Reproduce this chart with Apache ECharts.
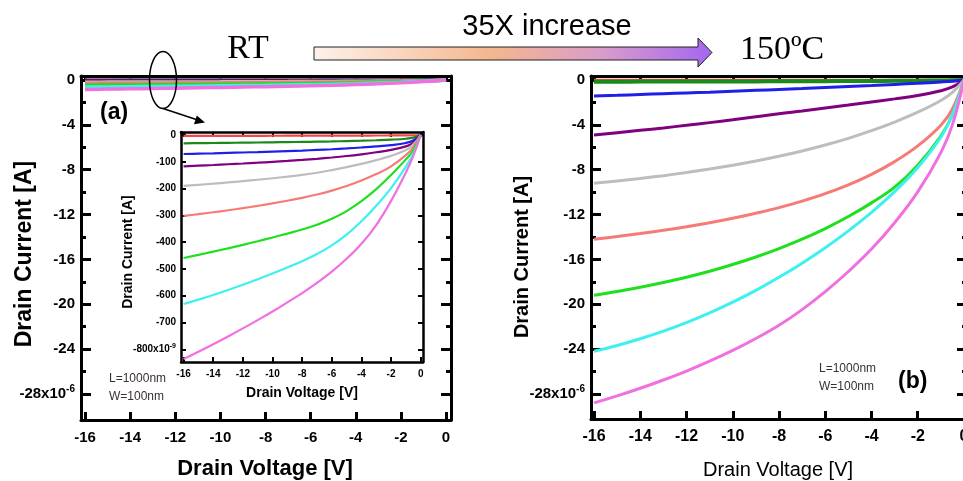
<!DOCTYPE html>
<html><head><meta charset="utf-8">
<script src="https://cdn.jsdelivr.net/npm/echarts@6/dist/echarts.min.js"></script>
<style>html,body{margin:0;padding:0;background:#fff}#c{width:963px;height:481px}</style>
</head><body><div id="c"></div>
<script>
// ---------- data ----------
const voltage = [-16,-15,-14,-13,-12,-11,-10,-9,-8,-7,-6,-5,-4,-3,-2,-1,-0.5,0];
// Room temperature curves, in nA (inset); main panel (a) shows the same in μA
const rtRed       = [-3,-3,-3,-3,-3,-3,-2.8,-2.7,-2.6,-2.5,-2.4,-2.3,-2.1,-1.9,-1.7,-1.4,-1,0];
const rtDarkGreen = [-31,-30.4,-29.8,-29.2,-28.6,-28,-27.3,-26.6,-25.8,-24.9,-23.9,-22.7,-21.3,-19.6,-17.4,-14,-10,0];
const rtBlue      = [-71,-69.7,-68.3,-66.8,-65.25,-63.6,-61.85,-60,-58,-55.7,-53.1,-50.1,-46.7,-42.7,-37.7,-29.7,-20.7,0];
const rtPurple    = [-117,-114.5,-111.9,-109.2,-106.4,-103.4,-100.2,-96.8,-93,-88.8,-84,-78.5,-72,-64.5,-55.5,-42.5,-29.5,0];
const rtGray      = [-190,-186,-181.7,-177.1,-172.2,-167,-161.5,-155.6,-149,-141,-131,-120,-108,-94,-78,-56,-36,0];
const rtSalmon    = [-302,-295.5,-288.5,-281,-273,-264.5,-255.5,-245.5,-234.5,-222,-207.5,-190.5,-170,-146,-117,-75,-46,0];
const rtGreen     = [-459,-447.5,-435.5,-423,-410,-396.5,-382.5,-368,-353,-335,-313,-284,-247,-202,-149,-91,-57,0];
const rtCyan      = [-631,-614.5,-597,-578.5,-559,-538.5,-517,-494.5,-471,-444,-412,-372,-322,-264,-198,-118,-70,0];
const rtPink      = [-836,-809,-781,-752,-722,-691,-659,-625,-590,-552,-510,-462,-406,-336,-246,-140,-78,0];
// 150 °C curves, in μA
const hotRed       = [-0.03,-0.03,-0.03,-0.03,-0.03,-0.03,-0.03,-0.02,-0.02,-0.02,-0.02,-0.02,-0.02,-0.02,-0.01,-0.01,-0.01,0];
const hotDarkGreen = [-0.15,-0.15,-0.14,-0.14,-0.13,-0.13,-0.12,-0.12,-0.11,-0.11,-0.10,-0.09,-0.08,-0.07,-0.06,-0.04,-0.02,0];
const hotBlue      = [-1.42,-1.36,-1.29,-1.22,-1.15,-1.08,-1.0,-0.92,-0.84,-0.76,-0.67,-0.58,-0.49,-0.39,-0.29,-0.17,-0.1,0];
const hotPurple    = [-4.9,-4.7,-4.49,-4.27,-4.04,-3.8,-3.55,-3.28,-3.0,-2.76,-2.5,-2.23,-1.95,-1.68,-1.38,-0.95,-0.62,0];
const hotGray      = [-9.2,-9.0,-8.78,-8.53,-8.25,-7.94,-7.6,-7.22,-6.8,-6.33,-5.8,-5.2,-4.52,-3.75,-2.87,-1.82,-1.1,0];
const hotSalmon    = [-14.2,-13.96,-13.7,-13.41,-13.09,-12.73,-12.33,-11.88,-11.38,-10.8,-10.14,-9.36,-8.42,-7.28,-5.88,-4.03,-2.58,0];
const hotGreen     = [-19.2,-18.86,-18.48,-18.06,-17.59,-17.06,-16.46,-15.79,-15.04,-14.2,-13.25,-12.18,-10.96,-9.56,-7.6,-5.0,-3.1,0];
const hotCyan      = [-24.2,-23.68,-23.08,-22.4,-21.64,-20.78,-19.82,-18.76,-17.6,-16.34,-14.96,-13.46,-11.8,-9.95,-7.8,-5.1,-3.1,0];
const hotPink      = [-28.8,-28.18,-27.5,-26.76,-25.96,-25.08,-24.12,-23.06,-21.88,-20.48,-18.88,-17.08,-15.08,-12.73,-9.98,-6.48,-3.98,0];

const curveColors = ['#f04848','#1a8a1a','#1f1fe8','#800080','#bdbdbd','#f67a76','#1ee01e','#3ef0f0','#f070e0'];
const rtCurves  = [rtRed,rtDarkGreen,rtBlue,rtPurple,rtGray,rtSalmon,rtGreen,rtCyan,rtPink];
const hotCurves = [hotRed,hotDarkGreen,hotBlue,hotPurple,hotGray,hotSalmon,hotGreen,hotCyan,hotPink];

const xTicks = [-16,-14,-12,-10,-8,-6,-4,-2,0];
const yMajorTicks = [0,-4,-8,-12,-16,-20,-24,-28];
const yMinorTicks = [-2,-6,-10,-14,-18,-22,-26];
const insetYTicks = [0,-100,-200,-300,-400,-500,-600,-700,-800];

// ---------- helpers ----------
const SANS = '"Liberation Sans", Arial, sans-serif';
const SERIF = '"Liberation Serif", "Times New Roman", serif';

function axis(o) {
  const a = {
    type: 'value', gridIndex: o.grid, position: o.pos, min: o.min, max: o.max,
    axisLine: { show: o.line !== false, onZero: false, lineStyle: { color: '#000', width: o.lw || 3 } },
    axisTick: { show: true, inside: true, length: o.tl, customValues: o.ticks, lineStyle: { color: '#000', width: o.tw || 3 } },
    axisLabel: { show: false },
    splitLine: { show: false }
  };
  if (o.labels) {
    a.axisLabel = {
      show: true, customValues: o.labels, margin: o.margin, color: '#000',
      fontFamily: SANS, fontWeight: 'bold', fontSize: o.fs,
      formatter: o.fmt || (v => String(v)),
      rich: o.rich
    };
  }
  return a;
}

const richMain = {
  n: { fontFamily: SANS, fontWeight: 'bold', fontSize: 15, color: '#000' },
  s: { fontFamily: SANS, fontWeight: 'bold', fontSize: 10, color: '#000', verticalAlign: 'top', padding: [0, 0, 9, 0] }
};
const richInset = {
  n: { fontFamily: SANS, fontWeight: 'bold', fontSize: 10, color: '#000' },
  s: { fontFamily: SANS, fontWeight: 'bold', fontSize: 7, color: '#000', verticalAlign: 'top', padding: [0, 0, 6, 0] }
};
const fmtMain = v => v === -28 ? '{n|-28x10}{s|-6}' : '{n|' + v + '}';
const fmtInset = v => v === -800 ? '{n|-800x10}{s|-9}' : '{n|' + v + '}';

// ---------- grids ----------
const grids = [
  { left: 81, top: 76, width: 370, height: 344, outerBoundsMode: 'none' },   // (a) main
  { left: 181, top: 132, width: 242, height: 230, show: true, backgroundColor: '#fff', borderWidth: 0, outerBoundsMode: 'none' }, // inset
  { left: 591, top: 76, width: 376, height: 343, outerBoundsMode: 'none' }   // (b)
];

const xAxes = [
  axis({ grid: 0, pos: 'bottom', min: -16.18, max: 0.22, ticks: xTicks, tl: 8, labels: xTicks, fs: 15, margin: 10 }),
  axis({ grid: 0, pos: 'top', min: -16.18, max: 0.22, ticks: xTicks, tl: 6 }),
  axis({ grid: 1, pos: 'bottom', min: -16.175, max: 0.155, ticks: xTicks, tl: 5, lw: 2.5, tw: 2, labels: xTicks, fs: 10, margin: 7 }),
  axis({ grid: 1, pos: 'top', min: -16.175, max: 0.155, ticks: xTicks, tl: 5, lw: 2.5, tw: 2 }),
  axis({ grid: 2, pos: 'bottom', min: -16.13, max: 0.13, ticks: xTicks, tl: 8, labels: xTicks, fs: 16, margin: 10 }),
  axis({ grid: 2, pos: 'top', min: -16.13, max: 0.13, ticks: xTicks, tl: 6 })
];
const yAxes = [
  axis({ grid: 0, pos: 'left', min: -30.33, max: 0.36, ticks: yMajorTicks, tl: 10, labels: yMajorTicks, fs: 15, margin: 6, fmt: fmtMain, rich: richMain }),
  axis({ grid: 0, pos: 'left', min: -30.33, max: 0.36, ticks: yMinorTicks, tl: 5, line: false }),
  axis({ grid: 0, pos: 'right', min: -30.33, max: 0.36, ticks: yMajorTicks, tl: 10 }),
  axis({ grid: 0, pos: 'right', min: -30.33, max: 0.36, ticks: yMinorTicks, tl: 5, line: false }),
  axis({ grid: 1, pos: 'left', min: -847.4, max: 11.2, ticks: insetYTicks, tl: 5, lw: 2.5, tw: 2, labels: insetYTicks, fs: 10, margin: 5, fmt: fmtInset, rich: richInset }),
  axis({ grid: 1, pos: 'right', min: -847.4, max: 11.2, ticks: insetYTicks, tl: 5, lw: 2.5, tw: 2 }),
  axis({ grid: 2, pos: 'left', min: -30.24, max: 0.36, ticks: yMajorTicks, tl: 10, labels: yMajorTicks, fs: 15, margin: 6, fmt: fmtMain, rich: richMain }),
  axis({ grid: 2, pos: 'left', min: -30.24, max: 0.36, ticks: yMinorTicks, tl: 5, line: false }),
  axis({ grid: 2, pos: 'right', min: -30.24, max: 0.36, ticks: yMajorTicks, tl: 10 }),
  axis({ grid: 2, pos: 'right', min: -30.24, max: 0.36, ticks: yMinorTicks, tl: 5, line: false })
];

// ---------- series ----------
const series = [];
rtCurves.forEach((arr, k) => {
  series.push({ type: 'line', xAxisIndex: 0, yAxisIndex: 0, showSymbol: false, smooth: 0.4, z: 3,
    data: voltage.map((v, i) => [v, arr[i] / 1000]),
    lineStyle: { color: curveColors[k], width: 3.5 } });
});
rtCurves.forEach((arr, k) => {
  series.push({ type: 'line', xAxisIndex: 2, yAxisIndex: 4, showSymbol: false, smooth: 0.4, z: 5,
    data: voltage.map((v, i) => [v, arr[i]]),
    lineStyle: { color: curveColors[k], width: 2.2 } });
});
hotCurves.forEach((arr, k) => {
  series.push({ type: 'line', xAxisIndex: 4, yAxisIndex: 6, showSymbol: false, smooth: 0.4, z: 3,
    data: voltage.map((v, i) => [v, arr[i]]),
    lineStyle: { color: curveColors[k], width: k === 1 ? 4 : 3 } });
});

// ---------- annotations ----------
function txt(x, y, text, font, opts) {
  opts = opts || {};
  return { type: 'text', x: x, y: y, rotation: opts.rot || 0, z: 20,
    style: { text: text, font: font, fill: opts.fill || '#000', align: opts.align || 'center', verticalAlign: 'middle' } };
}
const arrowGrad = new echarts.graphic.LinearGradient(0, 0, 1, 0, [
  { offset: 0, color: '#fdf2eb' }, { offset: 0.45, color: '#f4b68e' },
  { offset: 0.72, color: '#d99dca' }, { offset: 1, color: '#a466f0' }
]);
const graphic = [
  { type: 'polygon', z: 20, shape: { points: [[314,47],[698,47],[698,38],[712,52.5],[698,67],[698,60],[314,60]] },
    style: { fill: arrowGrad, stroke: '#222', lineWidth: 1 } },
  txt(248, 49, 'RT', '34px ' + SERIF),
  txt(547, 27, '35X increase', '29px ' + SANS),
  txt(740, 50, '150ºC', '34px ' + SERIF, { align: 'left' }),
  { type: 'ellipse', z: 20, shape: { cx: 163, cy: 80, rx: 13.5, ry: 28.5 }, style: { fill: null, stroke: '#000', lineWidth: 1.5 } },
  { type: 'line', z: 20, shape: { x1: 163, y1: 108.5, x2: 197, y2: 119.8 }, style: { stroke: '#000', lineWidth: 1.5 } },
  { type: 'polygon', z: 20, shape: { points: [[205,122.5],[194,124.2],[196.8,115.6]] }, style: { fill: '#000' } },
  txt(100, 113, '(a)', 'bold 23px ' + SANS, { align: 'left' }),
  txt(898, 382, '(b)', 'bold 23px ' + SANS, { align: 'left' }),
  txt(109, 379, 'L=1000nm', '12px ' + SANS, { align: 'left', fill: '#3a3030' }),
  txt(109, 397, 'W=100nm', '12px ' + SANS, { align: 'left', fill: '#3a3030' }),
  txt(819, 369, 'L=1000nm', '12px ' + SANS, { align: 'left', fill: '#3a3030' }),
  txt(819, 387, 'W=100nm', '12px ' + SANS, { align: 'left', fill: '#3a3030' }),
  txt(25, 254, 'Drain Current [A]', 'bold 23px ' + SANS, { rot: Math.PI / 2 }),
  txt(265, 469, 'Drain Voltage [V]', 'bold 22px ' + SANS),
  txt(128, 252, 'Drain Current [A]', 'bold 14px ' + SANS, { rot: Math.PI / 2 }),
  txt(302, 393, 'Drain Voltage [V]', 'bold 14px ' + SANS),
  txt(522, 257, 'Drain Current [A]', 'bold 20px ' + SANS, { rot: Math.PI / 2 }),
  txt(778, 470, 'Drain Voltage [V]', '20px ' + SANS)
];

const chart = echarts.init(document.getElementById('c'), null, { renderer: 'canvas' });
chart.setOption({
  animation: false,
  backgroundColor: '#fff',
  grid: grids,
  xAxis: xAxes,
  yAxis: yAxes,
  series: series,
  graphic: graphic
});
</script></body></html>
